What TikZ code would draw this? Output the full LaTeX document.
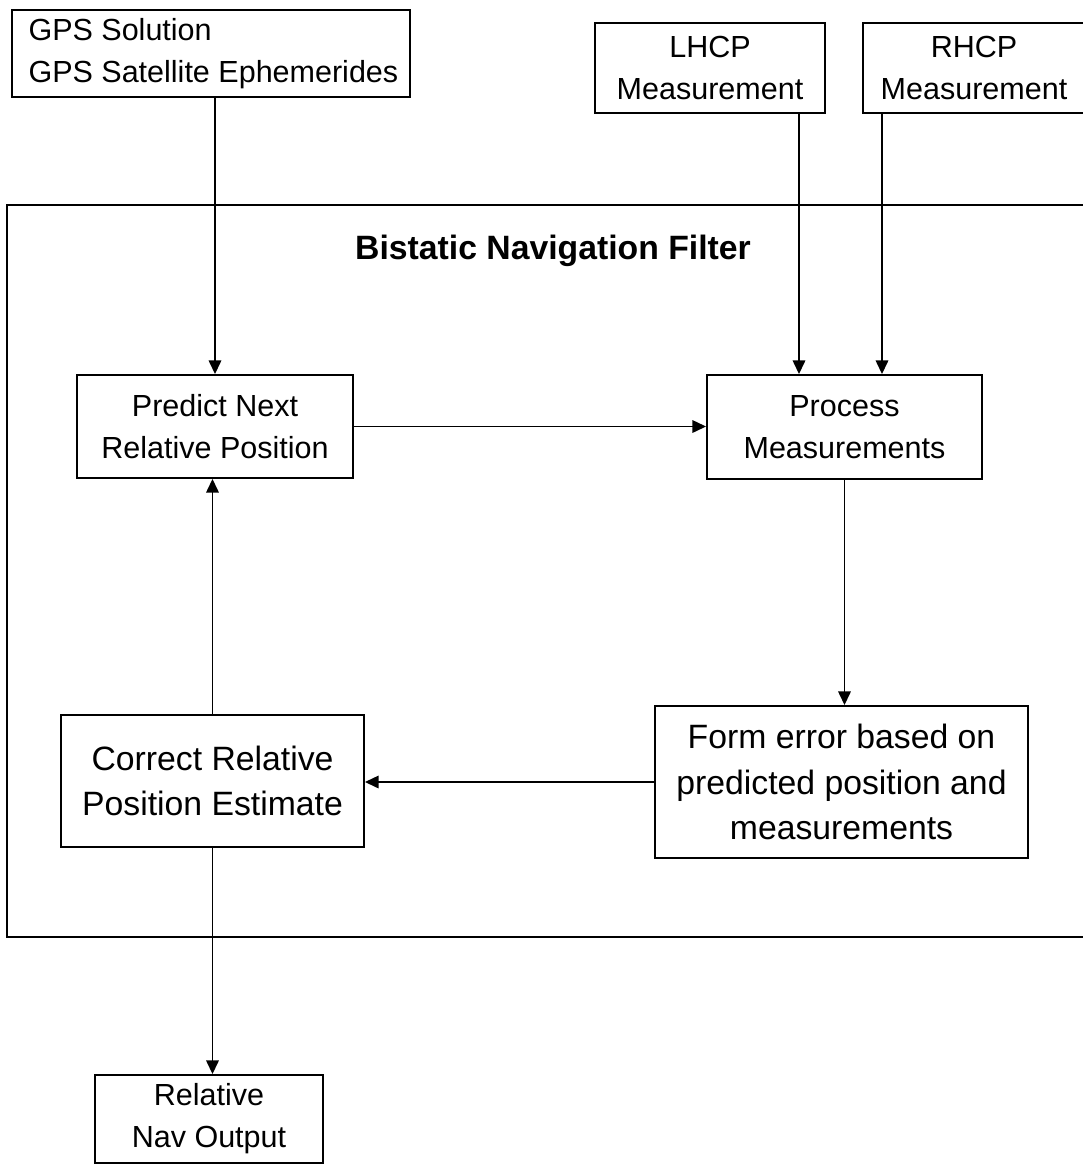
\documentclass[tikz,border=0pt]{standalone}
\usepackage{fontspec}
\setmainfont{Liberation Sans}
\usetikzlibrary{arrows.meta}
\newcommand\blkfont{\fontsize{21.7}{30}\selectfont}
\newcommand\bigblkfont{\fontsize{24}{32.5}\selectfont}
\tikzset{
  blk/.style={draw, line width=1.3pt, align=center, inner sep=0pt, font=\blkfont},
  bigblk/.style={blk, font=\bigblkfont},
  flow/.style={line width=1.4pt, -{Triangle[length=3.4mm,width=3.1mm]}}
}

\begin{document}
\begin{tikzpicture}[x=0.025cm, y=-0.025cm]
  \useasboundingbox (0,0) rectangle (1083,1165);
  % inputs
  \node [blk, align=left, minimum width=9.95cm, minimum height=2.175cm] (gps) at (211,53.5) {\hspace*{0.12cm}GPS Solution\\\hspace*{0.12cm}GPS Satellite Ephemerides};
  \node [blk, minimum width=5.75cm, minimum height=2.25cm] (lhcp) at (710,68) {LHCP\\Measurement};
  \node [blk, minimum width=5.55cm, minimum height=2.25cm] (rhcp) at (974,68) {RHCP\\Measurement};
  % filter
  \draw [line width=1.3pt] (7,205) rectangle (1095,937);
  \node [font=\fontsize{24}{30}\selectfont\bfseries] (title) at (553,251) {Bistatic Navigation Filter};
  \node [blk, minimum width=6.9cm, minimum height=2.575cm] (predict) at (215,426.5) {Predict Next\\Relative Position};
  \node [blk, minimum width=6.875cm, minimum height=2.6cm] (process) at (844.5,427) {Process\\Measurements};
  \node [bigblk, minimum width=9.325cm, minimum height=3.8cm] (form) at (841.5,782) {Form error based on\\predicted position and\\measurements};
  \node [bigblk, minimum width=7.575cm, minimum height=3.3cm] (correct) at (212.5,781) {Correct Relative\\Position Estimate};
  % output
  \node [blk, minimum width=5.7cm, minimum height=2.2cm] (nav) at (209,1119) {Relative\\Nav Output};
  % connectors
  \coordinate (lx) at (799,0);
  \coordinate (rx) at (882,0);
  \draw [flow] (predict.north |- gps.south) -- (predict.north);
  \draw [flow] (lhcp.south -| lx) -- (process.north -| lx);
  \draw [flow] (rhcp.south -| rx) -- (process.north -| rx);
  \draw [flow] (predict.east) -- (predict.east -| process.west);
  \draw [flow] (process.south) -- (process.south |- form.north);
  \draw [flow] (form.west) -- (form.west -| correct.east);
  \draw [flow] (correct.north) -- (correct.north |- predict.south);
  \draw [flow] (correct.south) -- (correct.south |- nav.north);
\end{tikzpicture}
\end{document}
